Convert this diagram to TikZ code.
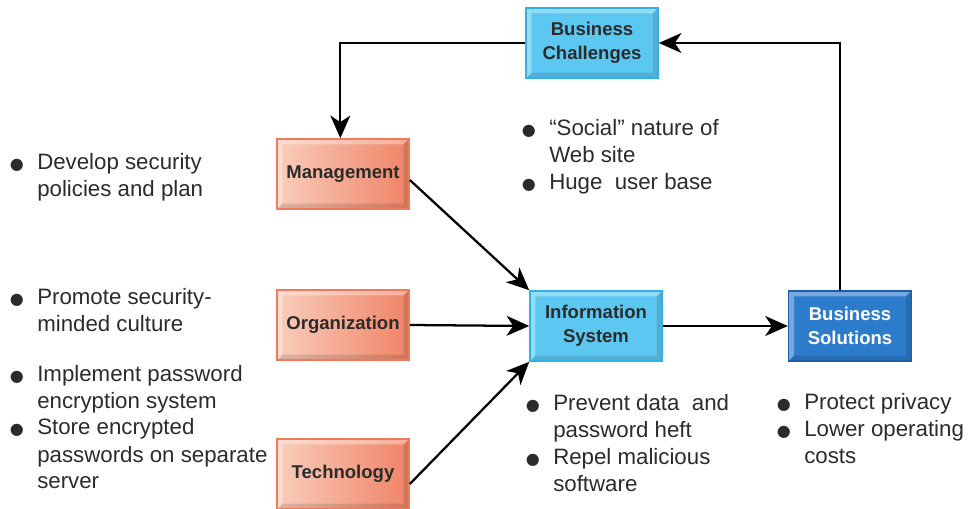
\documentclass[tikz,border=0pt]{standalone}
\usepackage{fontspec}
\setmainfont{Liberation Sans}
\newfontfamily\symfont{DejaVu Sans}
\usetikzlibrary{arrows.meta}

\definecolor{textgray}{HTML}{2B2B2B}
\definecolor{skyfill}{HTML}{5CC8F1}
\definecolor{skyline}{HTML}{2FB2E6}
\definecolor{navyfill}{HTML}{2C7CCB}
\definecolor{navyline}{HTML}{1D5EA8}
\definecolor{coralleft}{HTML}{F9CDBB}
\definecolor{coralright}{HTML}{EF8466}
\definecolor{coralline}{HTML}{F17A5C}

\newcommand{\itm}{\llap{{\symfont\fontsize{12}{12}\selectfont ●}\hspace{10pt}}}

\begin{document}
\begin{tikzpicture}[
    x=0.75pt,
    y=-0.75pt,
    >={Stealth[length=17pt, width=15pt, inset=5pt]},
    bevel/.style={path picture={
        \fill[white, opacity=.35] (path picture bounding box.south west) -- (path picture bounding box.north west) -- (path picture bounding box.north east)
            -- ([shift={(-4pt,-4pt)}]path picture bounding box.north east) -- ([shift={(4pt,-4pt)}]path picture bounding box.north west)
            -- ([shift={(4pt,4pt)}]path picture bounding box.south west) -- cycle;
        \fill[black, opacity=.12] (path picture bounding box.south west) -- (path picture bounding box.south east) -- (path picture bounding box.north east)
            -- ([shift={(-4pt,-4pt)}]path picture bounding box.north east) -- ([shift={(-4pt,4pt)}]path picture bounding box.south east)
            -- ([shift={(4pt,4pt)}]path picture bounding box.south west) -- cycle;
    }},
    box/.style={draw, line width=1.2pt, bevel, minimum width=99pt, minimum height=52.5pt, inner sep=2pt, align=center,
        font=\fontsize{13.9}{17.8}\selectfont\bfseries, text=textgray},
    sky/.style={box, draw=skyline, fill=skyfill},
    navy/.style={box, draw=navyline, fill=navyfill, text=white, minimum width=92pt},
    coral/.style={box, draw=coralline, left color=coralleft, right color=coralright},
    notes/.style={anchor=base west, inner sep=0pt, align=left, font=\fontsize{16.7}{20.25}\selectfont, text=textgray},
    line/.style={->, line width=1.7pt}
]
\useasboundingbox (0,0) rectangle (968,509);

% boxes
\node[sky] (bc) at (592,43) {Business\\Challenges};
\node[coral] (mgmt) at (343,174) {Management};
\node[coral] (org) at (343,325) {Organization};
\node[coral] (tech) at (343,474) {Technology};
\node[sky] (is) at (596,326) {Information\\System};
\node[navy] (bs) at (850,326) {Business\\Solutions};

% bullet notes (placed at the baseline of their last line)
\node[notes] (dev) at (37,197) {\itm Develop security\\policies and plan};
\node[notes] (social) at (549,190) {\itm ``Social'' nature of\\Web site\\\itm Huge\ \ user base};
\node[notes] (promote) at (37,332) {\itm Promote security-\\minded culture};
\node[notes] (implement) at (37,489) {\itm Implement password\\encryption system\\\itm Store encrypted\\passwords on separate\\server};
\node[notes] (prevent) at (553,492) {\itm Prevent data\ \ and\\password heft\\\itm Repel malicious\\software};
\node[notes] (protect) at (804,464) {\itm Protect privacy\\\itm Lower operating\\costs};

% arrows
\draw[line] (bc.west) -| ([xshift=-2pt]mgmt.north);
\draw[line] ([xshift=-7.5pt]bs.north) |- (bc.east);
\draw[line] ([yshift=-4.5pt]mgmt.east) -- (is.north west);
\draw[line] (org.east) -- (is.west);
\draw[line] ([yshift=-7.5pt]tech.east) -- (is.south west);
\draw[line] (is.east) -- (bs.west);
\end{tikzpicture}
\end{document}
